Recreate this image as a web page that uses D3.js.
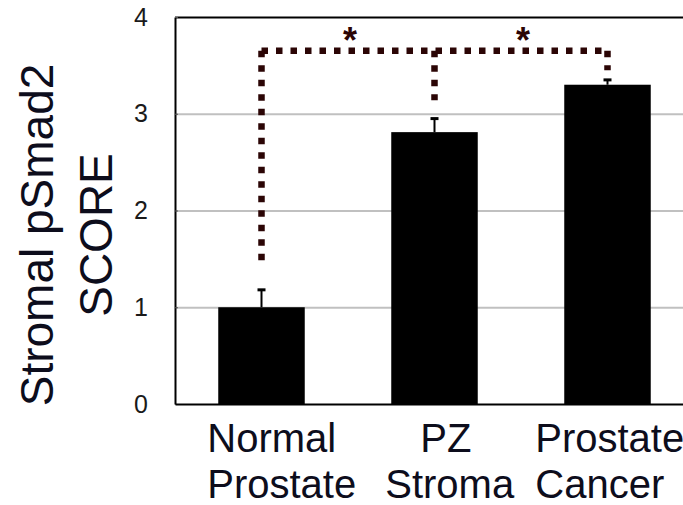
<!DOCTYPE html>
<html>
<head>
<meta charset="utf-8">
<script src="https://cdn.jsdelivr.net/npm/d3@7"></script>
<style>
  body { margin: 0; background: #fff; }
  svg { display: block; font-family: "Liberation Sans", Arial, sans-serif; }
</style>
</head>
<body>
<svg id="chart" width="683" height="505"></svg>
<script>
// data
const categories = ['Normal Prostate', 'PZ Stroma', 'Prostate Cancer']
const labelLines = [['Normal', 'Prostate'], ['PZ', 'Stroma'], ['Prostate', 'Cancer']]
const scores = [1.0, 2.81, 3.30]
const errors = [0.18, 0.14, 0.05]
const yTicks = [0, 1, 2, 3, 4]
// significance bracket: height of the bar across, and where each drop ends
const bracketTop = 3.65
const bracketEnds = [1.42, 3.14, 3.45]
const starPairs = [[0, 1], [1, 2]]

// layout bits (not data)
const labelDx = [[-11, -11], [29, -6], [-29, -29]]
const bracketColor = '#2b0505'

const svg = d3.select('#chart')
const plotLeft = 175, plotTop = 17, plotBottom = 404, plotRight = 694

const x = d3.scaleBand().domain(categories).range([plotLeft, plotRight])
    .paddingInner(0.5).paddingOuter(0.25)
const y = d3.scaleLinear().domain([0, 4]).range([plotBottom, plotTop])

// grid lines
svg.append('g')
    .attr('transform', `translate(${plotLeft},0)`)
    .call(d3.axisLeft(y).tickValues(yTicks.slice(1)).tickSize(-(plotRight - plotLeft)).tickFormat(''))
    .call(g => g.select('.domain').remove())
    .call(g => g.selectAll('.tick line')
        .attr('stroke', d => d === 4 ? '#000' : '#c0c0c0')
        .attr('stroke-width', 2))

// bars
svg.selectAll('rect.bar')
    .data(categories)
    .enter()
    .append('rect')
    .attr('class', 'bar')
    .attr('x', d => x(d))
    .attr('width', x.bandwidth())
    .attr('y', (d, i) => y(scores[i]))
    .attr('height', (d, i) => y(0) - y(scores[i]))
    .attr('fill', '#000')

// error bars (upper only)
const eb = svg.selectAll('g.err').data(categories).enter().append('g').attr('class', 'err')
eb.append('line')
    .attr('x1', d => x(d) + x.bandwidth() / 2)
    .attr('x2', d => x(d) + x.bandwidth() / 2)
    .attr('y1', (d, i) => y(scores[i]))
    .attr('y2', (d, i) => y(scores[i] + errors[i]))
    .attr('stroke', '#000').attr('stroke-width', 2)
eb.append('line')
    .attr('x1', d => x(d) + x.bandwidth() / 2 - 4)
    .attr('x2', d => x(d) + x.bandwidth() / 2 + 4)
    .attr('y1', (d, i) => y(scores[i] + errors[i]))
    .attr('y2', (d, i) => y(scores[i] + errors[i]))
    .attr('stroke', '#000').attr('stroke-width', 3)

// y axis
svg.append('g')
    .attr('transform', `translate(${plotLeft},0)`)
    .call(d3.axisLeft(y).tickValues(yTicks).tickFormat(d3.format('d'))
        .tickSizeInner(-3).tickSizeOuter(0).tickPadding(27))
    .call(g => g.select('.domain').attr('stroke', '#000').attr('stroke-width', 2))
    .call(g => g.selectAll('.tick line').attr('stroke', '#555'))
    .call(g => g.selectAll('.tick text')
        .attr('font-size', 25).attr('fill', '#1a1a1a')
        .attr('font-family', '"Liberation Sans", Arial, sans-serif'))

// x axis line
svg.append('g')
    .attr('transform', `translate(0,${plotBottom})`)
    .call(d3.axisBottom(x).tickSize(0).tickFormat(''))
    .call(g => g.select('.domain').attr('stroke', '#000').attr('stroke-width', 2))

// category labels
const lab = svg.selectAll('text.cat').data(categories).enter().append('text')
    .attr('class', 'cat')
    .attr('font-size', 40)
    .attr('fill', '#0d0d1c')
lab.selectAll('tspan')
    .data((d, i) => labelLines[i].map((t, j) => ({ t, j, i, d })))
    .enter()
    .append('tspan')
    .attr('x', o => x(o.d) + labelDx[o.i][o.j])
    .attr('y', o => 452 + o.j * 46)
    .text(o => o.t)

// y title
svg.append('text')
    .attr('transform', 'translate(53,235) rotate(-90)')
    .attr('text-anchor', 'middle')
    .attr('font-size', 46)
    .attr('fill', '#0d0d1c')
    .call(t => t.append('tspan').attr('x', 0).attr('dy', 0).text('Stromal pSmad2'))
    .call(t => t.append('tspan').attr('x', 0).attr('dy', 59).text('SCORE'))

// significance bracket
const cx = d => x(d) + x.bandwidth() / 2
const bracket = d3.line()
svg.append('path')
    .attr('d', bracket([[cx(categories[0]), y(bracketTop)], [cx(categories[2]), y(bracketTop)]]))
    .attr('stroke', bracketColor).attr('stroke-width', 6.5).attr('fill', 'none')
    .attr('stroke-dasharray', '6.5 8')
svg.selectAll('path.drop')
    .data(categories)
    .enter()
    .append('path')
    .attr('class', 'drop')
    .attr('d', (d, i) => bracket([[cx(d), y(bracketTop)], [cx(d), y(bracketEnds[i])]]))
    .attr('stroke', bracketColor).attr('stroke-width', 6.5).attr('fill', 'none')
    .attr('stroke-dasharray', '6.5 8')

svg.selectAll('text.star')
    .data(starPairs)
    .enter()
    .append('text')
    .attr('class', 'star')
    .attr('x', p => (cx(categories[p[0]]) + cx(categories[p[1]])) / 2 + 2)
    .attr('y', y(bracketTop) + 2)
    .attr('text-anchor', 'middle')
    .attr('font-size', 36)
    .attr('font-weight', 'bold')
    .attr('fill', bracketColor)
    .text('*')
</script>
</body>
</html>
